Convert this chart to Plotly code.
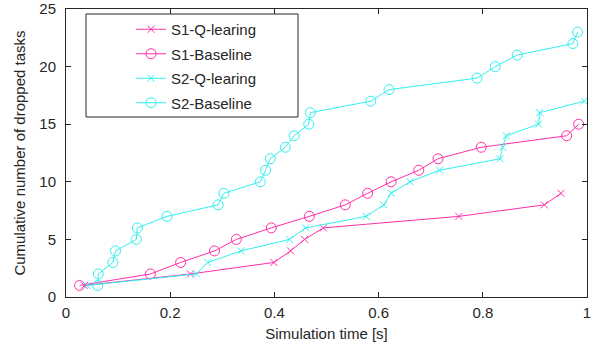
import plotly.graph_objects as go

# ---- data ----
s1_q_x = [0.035, 0.239, 0.399, 0.431, 0.458, 0.494, 0.754, 0.918, 0.950]
s1_q_y = [1, 2, 3, 4, 5, 6, 7, 8, 9]

s1_b_x = [0.026, 0.162, 0.220, 0.285, 0.327, 0.394, 0.467, 0.536, 0.579,
          0.624, 0.677, 0.714, 0.797, 0.961, 0.984]
s1_b_y = [1, 2, 3, 4, 5, 6, 7, 8, 9, 10, 11, 12, 13, 14, 15]

s2_q_x = [0.040, 0.250, 0.272, 0.336, 0.429, 0.460, 0.576, 0.610, 0.624,
          0.660, 0.717, 0.833, 0.838, 0.845, 0.907, 0.909, 0.995]
s2_q_y = [1, 2, 3, 4, 5, 6, 7, 8, 9, 10, 11, 12, 13, 14, 15, 16, 17]

s2_b_x = [0.061, 0.062, 0.090, 0.095, 0.135, 0.137, 0.194, 0.292, 0.303,
          0.373, 0.383, 0.392, 0.421, 0.438, 0.466, 0.469, 0.585, 0.620,
          0.789, 0.824, 0.866, 0.973, 0.982]
s2_b_y = list(range(1, 24))

x_ticks = [0, 0.2, 0.4, 0.6, 0.8, 1]
x_tick_labels = ["0", "0.2", "0.4", "0.6", "0.8", "1"]
y_ticks = [0, 5, 10, 15, 20, 25]

MAG = "#ff2fa8"
CYN = "#30f0f0"
FONT = "Liberation Sans"
INK = "#262626"

W, H = 601, 351
ML, MR, MT, MB = 66, 14, 9, 54
PW, PH = W - ML - MR, H - MT - MB

def px_x(p):
    return (p - ML) / PW

def px_y(p):
    return 1 - (p - MT) / PH

fig = go.Figure()

series = [
    ("S1-Q-learing", s1_q_x, s1_q_y, MAG, "x-thin-open", 7),
    ("S1-Baseline", s1_b_x, s1_b_y, MAG, "circle-open", 10),
    ("S2-Q-learing", s2_q_x, s2_q_y, CYN, "x-thin-open", 7),
    ("S2-Baseline", s2_b_x, s2_b_y, CYN, "circle-open", 10),
]
for i, (name, xs, ys, col, sym, sz) in enumerate(series):
    fig.add_trace(go.Scatter(
        x=xs, y=ys, name=name, mode="lines+markers",
        line=dict(color=col, width=1),
        marker=dict(symbol=sym, size=sz, color=col, line=dict(color=col, width=1)),
        legendgroup=f"g{i}",
    ))

axis_common = dict(
    showgrid=False, zeroline=False, showline=True, linecolor=INK,
    linewidth=1, mirror="ticks", ticks="inside", ticklen=5,
    tickcolor=INK, tickfont=dict(family=FONT, size=15, color=INK),
    automargin=False, ticklabeloverflow="allow",
)

# legend frame (box drawn separately so the box can be wider than plotly's own)
fig.add_shape(type="rect", xref="paper", yref="paper",
              x0=px_x(86), x1=px_x(298), y0=px_y(117), y1=px_y(14),
              line=dict(color=INK, width=1), fillcolor="white", layer="above")

fig.update_layout(
    width=W, height=H,
    margin=dict(l=ML, r=MR, t=MT, b=MB),
    paper_bgcolor="white", plot_bgcolor="white",
    font=dict(family=FONT, color=INK),
    showlegend=True,
    legend=dict(
        x=px_x(131), y=px_y(13), xanchor="left", yanchor="top",
        bgcolor="rgba(0,0,0,0)", borderwidth=0,
        font=dict(family=FONT, size=15, color=INK),
        tracegroupgap=2,
    ),
    xaxis=dict(range=[0, 1], tickvals=x_ticks, ticktext=x_tick_labels,
               ticklabelstandoff=2,
               title=dict(text="Simulation time [s]",
                          font=dict(family=FONT, size=15, color=INK),
                          standoff=8),
               **axis_common),
    yaxis=dict(range=[0, 25], tickvals=y_ticks, ticklabelstandoff=6,
               title=dict(text="Cumulative number of dropped tasks",
                          font=dict(family=FONT, size=15, color=INK),
                          standoff=10),
               **axis_common),
)

fig.write_html("out.html",
               config={"displayModeBar": False},
               post_script="document.body.style.margin='0px';")
